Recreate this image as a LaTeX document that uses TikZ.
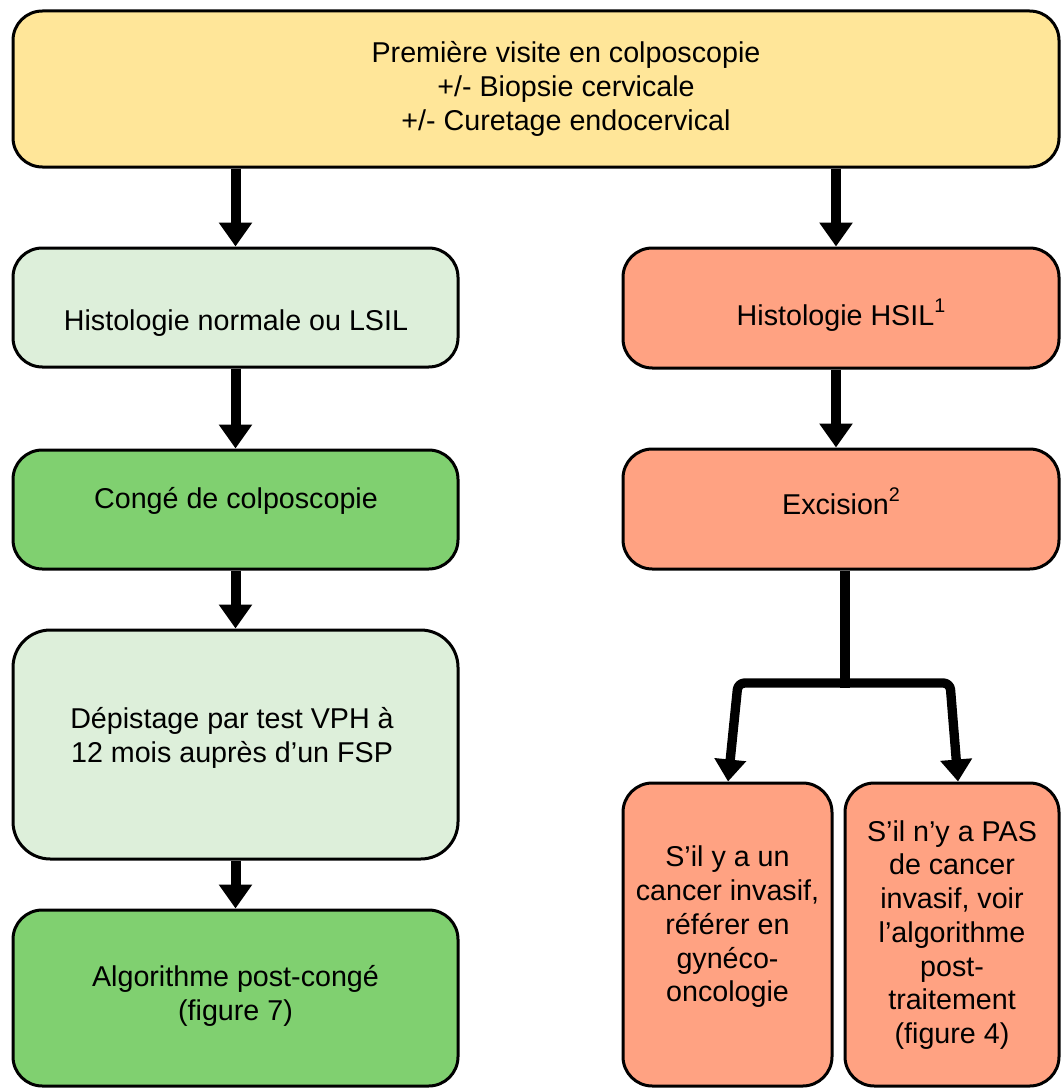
\documentclass[tikz,border=0pt]{standalone}
\usepackage{fontspec}
\setmainfont{Liberation Sans}
\usetikzlibrary{arrows.meta,calc}

\definecolor{boxyellow}{HTML}{FFE699}
\definecolor{boxpale}{HTML}{DDEFDA}
\definecolor{boxgreen}{HTML}{80D070}
\definecolor{boxsalmon}{HTML}{FFA282}

% raised footnote-style numeral
\newcommand{\noteref}[1]{\raisebox{9.5pt}{\fontsize{14.8pt}{15pt}\selectfont #1}}

\begin{document}
\begin{tikzpicture}[x=0.75pt,y=-0.75pt,
  box/.style={draw=black, line width=2.25pt, rounded corners=22pt, inner sep=0pt},
  txt/.style={align=center, inner sep=0pt, font=\fontsize{21.5pt}{25.3pt}\selectfont},
  arr/.style={line width=7.5pt, -{Triangle[width=24pt,length=18pt]}},
  brline/.style={line width=7pt},
  brarr/.style={line width=7pt, line join=round, rounded corners=5pt,
    -{Triangle[width=23pt,length=16.5pt]}}
]
\useasboundingbox (0,0) rectangle (1061,1088);
\fill[white] (0,0) rectangle (1061,1088);

% boxes
\node[box, fill=boxyellow, minimum width=784.5pt, minimum height=117pt] (top) at (536,89) {};
\node[box, fill=boxpale,   minimum width=333.75pt, minimum height=89.25pt] (hn) at (235.5,307.5) {};
\node[box, fill=boxgreen,  minimum width=333.75pt, minimum height=89.25pt] (conge) at (235.5,509.5) {};
\node[box, fill=boxpale,   minimum width=333.75pt, minimum height=171.75pt, rounded corners=28pt] (dep) at (235.5,744.5) {};
\node[box, fill=boxgreen,  minimum width=333.75pt, minimum height=132pt] (algo) at (235.5,998) {};
\node[box, fill=boxsalmon, minimum width=327pt, minimum height=90pt] (hsil) at (841,308) {};
\node[box, fill=boxsalmon, minimum width=327pt, minimum height=90pt] (exc) at (841,509) {};
\node[box, fill=boxsalmon, minimum width=156.75pt, minimum height=227.25pt] (canc) at (727.5,934.5) {};
\node[box, fill=boxsalmon, minimum width=160.5pt, minimum height=227.25pt] (pas) at (952,934.5) {};

% texts
\node[txt] (top-t) at (566,89) {Première visite en colposcopie\\+/- Biopsie cervicale\\+/- Curetage endocervical};
\node[txt, anchor=base] (hn-t) at (236,330) {Histologie normale ou LSIL};
\node[txt, anchor=base] (conge-t) at (236,508) {Congé de colposcopie};
\node[txt] (dep-t) at (232,738) {Dépistage par test VPH à\\12 mois auprès d’un FSP};
\node[txt] (algo-t) at (235.5,996) {Algorithme post-congé\\(figure 7)};
\node[txt, anchor=base] (hsil-t) at (841,325) {Histologie HSIL\noteref{1}};
\node[txt, anchor=base] (exc-t) at (841,514) {Excision\noteref{2}};
\node[txt] (canc-t) at (727.5,927) {S’il y a un\\cancer invasif,\\référer en\\gynéco-\\oncologie};
\node[txt] (pas-t) at (952,935) {S’il n’y a PAS\\de cancer\\invasif, voir\\l’algorithme\\post-\\traitement\\(figure 4)};

% left column arrows
\draw[arr] (top.south -| hn.north) -- (hn.north);
\draw[arr] (hn.south) -- (conge.north);
\draw[arr] (conge.south) -- (dep.north);
\draw[arr] (dep.south) -- (algo.north);

% right column arrows
\coordinate (rA) at ([xshift=-3.75pt]hsil.north);
\draw[arr] (top.south -| rA) -- (rA);
\draw[arr] (hsil.south -| rA) -- (exc.north -| rA);

% branch below the excision box
\coordinate (bj) at ([xshift=3pt]exc.south);
\coordinate (bh) at (845,683);
\coordinate (bl) at (738,683);
\coordinate (br) at (950,683);
\coordinate (tipL) at ([xshift=0.4pt]canc.north);
\coordinate (tipR) at ([xshift=4.5pt]pas.north);
\draw[brline] (bj) -- ([yshift=-3.5pt]bh);
\draw[brarr] (bh) -- (bl) -- (tipL);
\draw[brarr] (bh) -- (br) -- (tipR);
\end{tikzpicture}
\end{document}
